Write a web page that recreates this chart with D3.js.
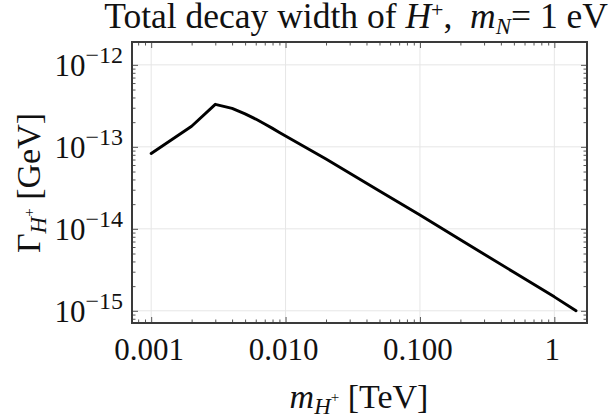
<!DOCTYPE html>
<html><head><meta charset="utf-8">
<script src="https://cdn.jsdelivr.net/npm/d3@7"></script>
<style>
html,body{margin:0;padding:0;background:#fff;}
svg{display:block;}
text{font-family:"Liberation Serif","Times New Roman",serif;fill:#111;}
</style></head>
<body>
<svg id="chart" width="613" height="419"></svg>
<script>
// Data (m_H+ in TeV, Gamma in GeV)
const massTeV = [0.001, 0.002, 0.003, 0.004, 0.005, 0.006, 0.007, 0.008, 0.009, 0.01, 0.02, 0.05, 0.1, 0.2, 0.5, 1, 1.45];
const widthGeV = [8.3e-14, 1.78e-13, 3.3e-13, 2.95e-13, 2.52e-13, 2.18e-13, 1.9e-13, 1.68e-13, 1.5e-13, 1.36e-13, 7.1e-14, 2.9e-14, 1.47e-14, 7.35e-15, 2.95e-15, 1.48e-15, 1.0e-15];
const xTickValues = [0.001, 0.01, 0.1, 1];
const xTickLabels = ["0.001", "0.010", "0.100", "1"];
const yTickValues = [1e-12, 1e-13, 1e-14, 1e-15];
const yTickExponents = ["\u221212", "\u221213", "\u221214", "\u221215"];

const svg = d3.select("#chart");
const L = 132, R = 587, T = 42, B = 323;
const x = d3.scaleLog().domain([0.00072, 1.75]).range([L, R]);
const y = d3.scaleLog().domain([7.1e-16, 1.9e-12]).range([B, T]);

// minor tick values
const xMinor = [], yMinor = [];
for (let e = -4; e <= 0; e++) for (let k = 1; k <= 9; k++) {
  const v = k * Math.pow(10, e);
  if (v >= x.domain()[0] && v <= x.domain()[1]) xMinor.push(v);
}
for (let e = -16; e <= -12; e++) for (let k = 1; k <= 9; k++) {
  const v = k * Math.pow(10, e);
  if (v >= y.domain()[0] && v <= y.domain()[1]) yMinor.push(v);
}

// grid
const grid = svg.append("g").attr("stroke", "#e6e6e6").attr("stroke-width", 1);
xTickValues.forEach(v => grid.append("line").attr("x1", x(v)).attr("x2", x(v)).attr("y1", T).attr("y2", B));
yTickValues.forEach(v => grid.append("line").attr("y1", y(v)).attr("y2", y(v)).attr("x1", L).attr("x2", R));

// ticks via d3 axes (inward)
function addAxis(axisGen, transform) {
  const g = svg.append("g").attr("transform", transform).call(axisGen);
  g.select(".domain").remove();
  g.selectAll("text").remove();
  g.selectAll("line").attr("stroke", "#555").attr("stroke-width", 1);
  return g;
}
const isMajorX = v => xTickValues.some(t => Math.abs(t - v) / t < 1e-6);
const isMajorY = v => yTickValues.some(t => Math.abs(t - v) / t < 1e-6);
const xLen = v => isMajorX(v) ? 6 : 3.5;
const yLen = v => isMajorY(v) ? 6 : 3.5;

[["bottom", B, -1], ["top", T, 1]].forEach(([side, pos, dir]) => {
  const ax = (side === "bottom" ? d3.axisBottom(x) : d3.axisTop(x)).tickValues(xMinor).tickSizeOuter(0).tickSize(0);
  const g = addAxis(ax, `translate(0,${pos})`);
  g.selectAll(".tick line").attr("y2", d => dir * xLen(d));
});
[["left", L, 1], ["right", R, -1]].forEach(([side, pos, dir]) => {
  const ax = (side === "left" ? d3.axisLeft(y) : d3.axisRight(y)).tickValues(yMinor).tickSizeOuter(0).tickSize(0);
  const g = addAxis(ax, `translate(${pos},0)`);
  g.selectAll(".tick line").attr("x2", d => dir * yLen(d));
});

// curve
const line = d3.line().x((d, i) => x(massTeV[i])).y(d => y(d));
svg.append("path").datum(widthGeV).attr("d", line)
  .attr("fill", "none").attr("stroke", "#000").attr("stroke-width", 2.9)
  .attr("stroke-linejoin", "round").attr("stroke-linecap", "round");

// frame
svg.append("rect").attr("x", L).attr("y", T).attr("width", R - L).attr("height", B - T)
  .attr("fill", "none").attr("stroke", "#3a3a3a").attr("stroke-width", 2);

// x tick labels
svg.append("g").selectAll("text").data(xTickValues).join("text")
  .attr("x", d => x(d) - 2).attr("y", 360).attr("text-anchor", "middle")
  .attr("font-size", 31).text((d, i) => xTickLabels[i]);

// y tick labels 10^exp
yTickValues.forEach((v, i) => {
  const t = svg.append("text").attr("y", y(v) + 11).attr("x", 0).attr("font-size", 31);
  t.append("tspan").text("10");
  t.append("tspan").attr("font-size", 24).attr("dy", -13).text(yTickExponents[i]);
  const w = t.node().getComputedTextLength();
  t.attr("x", 123 - w);
});

// x axis title
const xt = svg.append("text").attr("y", 408).attr("font-size", 34);
xt.append("tspan").attr("font-style", "italic").text("m");
xt.append("tspan").attr("font-style", "italic").attr("font-size", 23).attr("dy", 6).text("H");
xt.append("tspan").attr("font-size", 15).attr("dy", -12).text("+");
xt.append("tspan").attr("dy", 6).text(" [TeV]");
{ const w = xt.node().getComputedTextLength(); xt.attr("x", 359 - w / 2); }

// y axis title
const yt = svg.append("text").attr("font-size", 34).attr("transform", "translate(40,0) rotate(-90)");
yt.append("tspan").text("\u0393");
yt.append("tspan").attr("font-style", "italic").attr("font-size", 23).attr("dy", 6).text("H");
yt.append("tspan").attr("font-size", 15).attr("dy", -12).text("+");
yt.append("tspan").attr("dy", 6).text(" [GeV]");
{ const w = yt.node().getComputedTextLength(); yt.attr("x", -(183 + w / 2)); }

// title
const tt = svg.append("text").attr("y", 28).attr("font-size", 35.5);
tt.append("tspan").text("Total decay width of ");
tt.append("tspan").attr("font-style", "italic").text("H");
tt.append("tspan").attr("font-size", 22).attr("dy", -11).text("+");
tt.append("tspan").attr("dy", 11).text(",\u2002");
tt.append("tspan").attr("font-style", "italic").text("m");
tt.append("tspan").attr("font-style", "italic").attr("font-size", 23).attr("dy", 6).text("N");
tt.append("tspan").attr("dy", -6).text("= 1 eV");
{ const w = tt.node().getComputedTextLength(); tt.attr("x", 608 - w); }
</script>
</body></html>
